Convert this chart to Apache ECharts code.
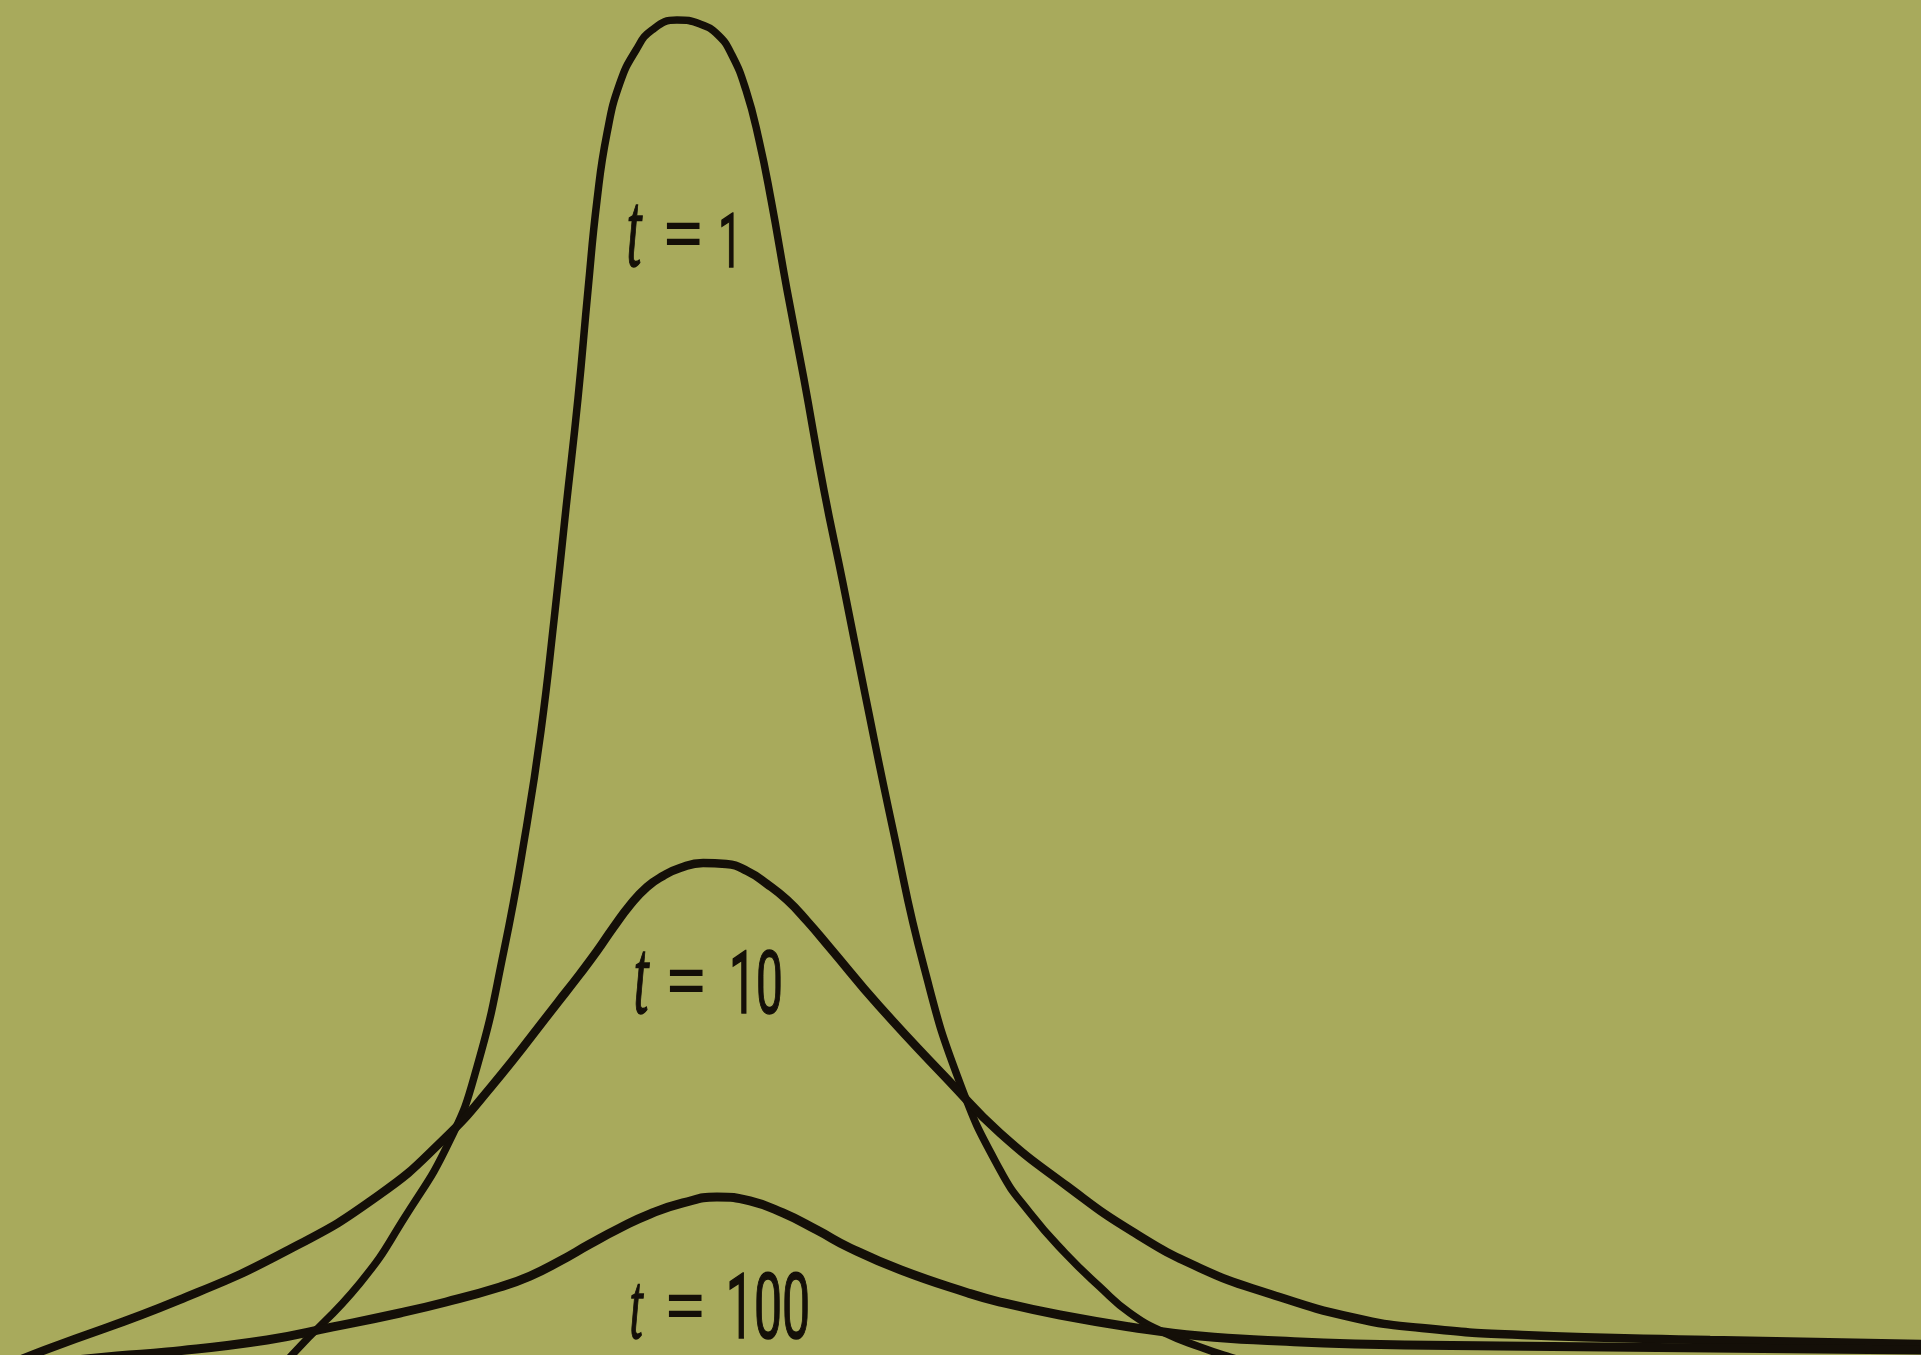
<!DOCTYPE html>
<html>
<head>
<meta charset="utf-8">
<style>
html,body{margin:0;padding:0;background:#a8aa5c;}
#chart{width:1921px;height:1355px;}
</style>
<script src="https://cdn.jsdelivr.net/npm/echarts@6/dist/echarts.min.js"></script>
</head>
<body>
<div id="chart"></div>
<script>
// Position x (0..100) and concentration y (peak of t = 1 about 100)
const curveT1 = [
  [13.95,-0.71],[15.20,1.50],[18.74,6.81],[21.08,11.68],[23.43,17.37],[24.83,22.75],
  [26.24,31.39],[27.38,40.25],[28.16,47.55],[28.84,55.74],[29.46,63.94],[30.09,72.13],
  [30.61,80.10],[31.08,86.74],[31.60,91.68],[32.27,95.37],[33.11,97.81],[33.94,99.29],
  [35.24,100.02],[36.44,99.73],[37.38,98.92],[38.10,97.44],[38.83,94.86],[39.51,91.17],
  [40.14,86.74],[40.97,80.10],[41.85,73.53],[42.89,65.34],[43.88,58.47],[45.03,50.28],
  [46.49,40.25],[48.10,30.13],[49.97,21.57],[52.06,15.15],[53.62,11.98],[55.44,9.03],
  [57.26,6.52],[58.82,4.60],[60.65,3.12],[62.47,2.09],[64.03,1.35],[66.63,0.25]
];
const curveT10 = [
  [0,0.54],[2.34,1.87],[9.32,5.56],[15.10,9.32],[19.73,13.31],[23.01,17.29],[25.56,21.28],
  [29.05,27.55],[30.19,29.62],[31.08,31.31],[31.91,33.01],[32.80,34.71],[33.68,36.04],
  [34.51,36.85],[35.40,37.44],[36.60,37.81],[37.80,37.74],[38.89,37.22],[39.93,36.26],
  [40.97,35.08],[42.01,33.53],[43.21,31.54],[45.76,27.26],[49.45,21.65],[52.06,17.88],
  [55.54,13.97],[58.98,10.58],[62.47,7.92],[65.95,6.08],[70.54,4.23],[74.02,3.49],
  [79.23,2.98],[89.02,2.61],[100,2.31]
];
const curveT100 = [
  [0,0.54],[6.09,1.43],[8.69,1.72],[13.90,2.61],[17.33,3.57],[20.82,4.60],[23.22,5.41],
  [26.03,6.52],[27.59,7.33],[29.15,8.44],[30.71,9.69],[32.27,10.87],[33.84,11.91],
  [35.55,12.72],[37.32,13.16],[39.04,12.87],[40.76,11.98],[42.53,10.72],[44.25,9.40],
  [46.90,7.77],[50.39,6.08],[52.06,5.41],[55.18,4.45],[58.82,3.57],[62.47,2.90],
  [66.63,2.53],[70.54,2.31],[78.08,2.16],[89.02,2.02],[100,1.87]
];
const labelNumbers = ['1', '10', '100'];
const labelAnchors = [[35.55,83.71],[35.71,28.58],[35.66,4.60]];

const INK = '#140f08';
const chart = echarts.init(document.getElementById('chart'), null, {renderer:'canvas'});
function lineSeries(name, data, w){
  return {
    name, type:'line', data, smooth:0.5, symbol:'none', clip:true,
    lineStyle:{color:INK, width:w, cap:'round', join:'round'},
    silent:true
  };
}
chart.setOption({
  animation:false,
  backgroundColor:'#a8aa5c',
  grid:{left:0,right:0,top:0,bottom:0},
  xAxis:{type:'value',min:0,max:100,show:false},
  yAxis:{type:'value',min:1.5,max:101.5,show:false},
  series:[
    lineSeries('t = 1',curveT1,7.5),
    lineSeries('t = 10',curveT10,8.5),
    lineSeries('t = 100',curveT100,9)
  ]
});

// label piece layout (pixel offsets from the "=" sign) and sizes
const pieces = [
  {t:[-49,-3,107], n:[47,7,76]},
  {t:[-45,-3,108], n:[70,3,87]},
  {t:[-49,0,95],  n:[83,2,91]}
];
const graphics = labelNumbers.map((num,i)=>{
  const p = chart.convertToPixel({xAxisIndex:0,yAxisIndex:0}, labelAnchors[i]);
  const pc = pieces[i];
  return {
    type:'group', x:p[0], y:p[1], silent:true,
    children:[
      {type:'text', x:pc.t[0], y:pc.t[1], scaleX:0.5,
       style:{text:'t', fontFamily:'"Liberation Serif", "DejaVu Serif", serif', fontStyle:'italic',
              fontSize:pc.t[2], fill:INK, stroke:INK, lineWidth:1.5, align:'center', verticalAlign:'middle'}},
      {type:'text', x:0, y:0,
       style:{text:'=', fontFamily:'Roboto, "DejaVu Sans", sans-serif', fontWeight:400,
              fontSize:80, fill:INK, align:'center', verticalAlign:'middle'}},
      {type:'text', x:pc.n[0], y:pc.n[1], scaleX:0.55,
       style:{text:num, fontFamily:'Roboto, "DejaVu Sans", sans-serif', fontWeight:400,
              fontSize:pc.n[2], fill:INK, stroke:INK, lineWidth:1.5, align:'center', verticalAlign:'middle'}}
    ]
  };
});
chart.setOption({graphic:graphics});
</script>
</body>
</html>
